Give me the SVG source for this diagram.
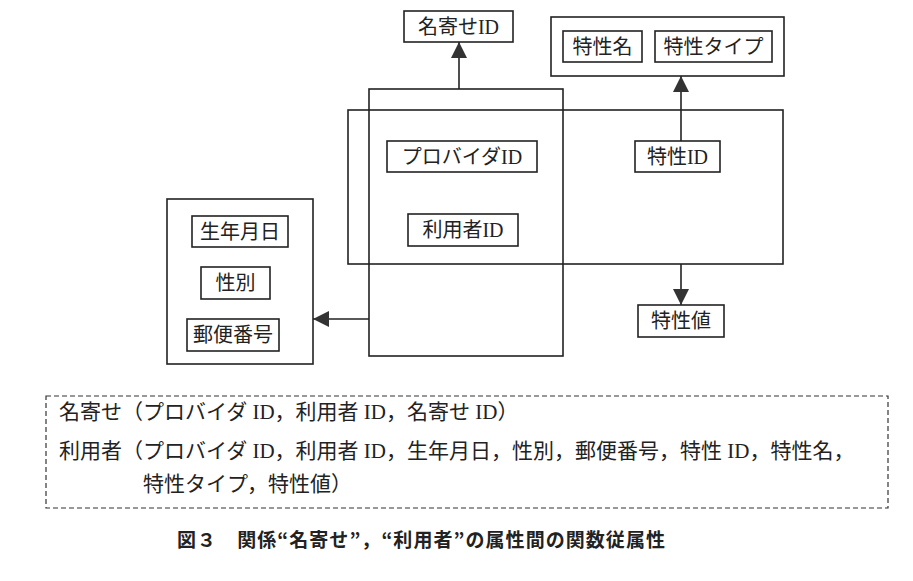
<svg xmlns="http://www.w3.org/2000/svg" width="913" height="581" viewBox="0 0 913 581">
<style>
.box{fill:none;stroke:#222;stroke-width:1.6}
.t{font-family:"Liberation Serif","Noto Sans CJK JP",serif;font-size:20px;fill:#222;text-anchor:middle}
.l{font-family:"Liberation Serif",serif}
.s{font-family:"Liberation Serif","Noto Sans CJK JP",serif;font-size:21px;fill:#222}
.cap{font-family:"Noto Sans CJK JP","Liberation Sans",sans-serif;font-size:19px;font-weight:700;fill:#222}
.c{fill:none;stroke:#222;stroke-width:1.6;marker-end:url(#ah)}
</style>
<defs>
<marker id="ah" viewBox="0 0 16 16" refX="16" refY="8" markerWidth="16" markerHeight="16" markerUnits="userSpaceOnUse" orient="auto">
<path d="M0,0 L16,8 L0,16 z" fill="#333"/>
</marker>
</defs>
<rect width="913" height="581" fill="#fff"/>

<g id="nayose-rel"><rect class="box" x="369" y="89" width="194" height="267"/></g>
<g id="riyosha-rel"><rect class="box" x="348" y="110" width="435" height="154"/></g>

<g id="nayose-id"><rect class="box" x="404" y="11" width="109" height="31"/><text class="t" x="458.5" y="34">名寄せ<tspan class="l">ID</tspan></text></g>
<g id="tokusei-group"><rect class="box" x="551" y="17" width="233" height="59"/></g>
<g id="tokusei-mei"><rect class="box" x="563" y="31" width="79" height="31"/><text class="t" x="602.5" y="54">特性名</text></g>
<g id="tokusei-type"><rect class="box" x="655" y="31" width="117" height="31"/><text class="t" x="713.5" y="54">特性タイプ</text></g>
<g id="provider-id"><rect class="box" x="387" y="141" width="150" height="31"/><text class="t" x="462" y="164">プロバイダ<tspan class="l">ID</tspan></text></g>
<g id="tokusei-id"><rect class="box" x="635" y="141" width="85" height="31"/><text class="t" x="677.5" y="164">特性<tspan class="l">ID</tspan></text></g>
<g id="riyosha-id"><rect class="box" x="408" y="214" width="110" height="32"/><text class="t" x="463" y="237">利用者<tspan class="l">ID</tspan></text></g>
<g id="personal-group"><rect class="box" x="167" y="199" width="146" height="165"/></g>
<g id="seinengappi"><rect class="box" x="192" y="216" width="96" height="31"/><text class="t" x="240" y="239">生年月日</text></g>
<g id="seibetsu"><rect class="box" x="201" y="267" width="69" height="32"/><text class="t" x="235.5" y="290">性別</text></g>
<g id="yubin"><rect class="box" x="187" y="319" width="92" height="32"/><text class="t" x="233" y="342">郵便番号</text></g>
<g id="tokusei-chi"><rect class="box" x="638" y="305" width="86" height="32"/><text class="t" x="681" y="328">特性値</text></g>

<g id="connectors">
<line class="c" x1="459" y1="89" x2="459" y2="42"/>
<line class="c" x1="681" y1="141" x2="681" y2="76"/>
<line class="c" x1="369" y1="319" x2="313" y2="319"/>
<line class="c" x1="681" y1="264" x2="681" y2="305"/>
</g>

<g id="schema">
<rect x="46" y="396" width="842" height="112" fill="none" stroke="#333" stroke-width="1.2" stroke-dasharray="5,3"/>
<text class="s" x="59" y="419">名寄せ（プロバイダ ID，利用者 ID，名寄せ ID）</text>
<text class="s" x="59" y="458">利用者（プロバイダ ID，利用者 ID，生年月日，性別，郵便番号，特性 ID，特性名，</text>
<text class="s" x="143" y="491">特性タイプ，特性値）</text>
</g>

<g id="caption">
<text class="cap" x="177" y="547" textLength="488" lengthAdjust="spacing">図３　関係“名寄せ”，“利用者”の属性間の関数従属性</text>
</g>
</svg>
